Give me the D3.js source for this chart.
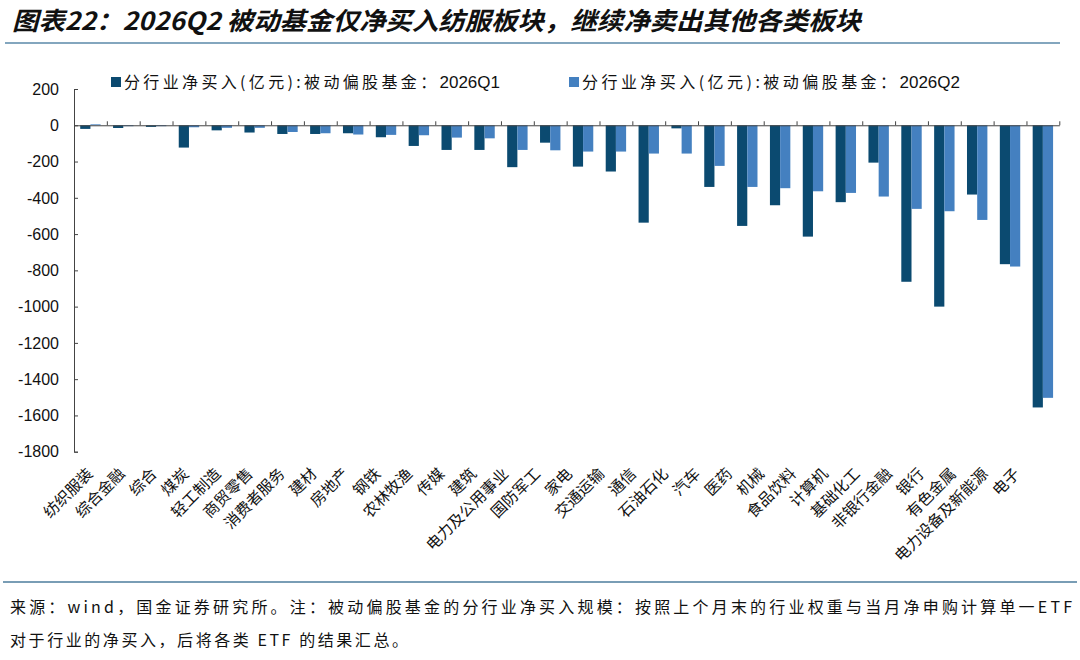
<!DOCTYPE html>
<html><head><meta charset="utf-8">
<script src="https://cdn.jsdelivr.net/npm/d3@7"></script>
<style>
html,body{margin:0;padding:0;background:#fff;}
svg{display:block;}
</style></head>
<body>
<svg id="chart" width="1080" height="660"></svg>
<script>
const categories = ["纺织服装","综合金融","综合","煤炭","轻工制造","商贸零售","消费者服务","建材","房地产","钢铁","农林牧渔","传媒","建筑","电力及公用事业","国防军工","家电","交通运输","通信","石油石化","汽车","医药","机械","食品饮料","计算机","基础化工","非银行金融","银行","有色金属","电力设备及新能源","电子"];
const q1Values = [-20,-15,-9,-123,-28,-40,-48,-48,-44,-66,-114,-136,-136,-231,-96,-228,-255,-537,-17,-340,-555,-441,-614,-424,-206,-863,-1000,-382,-766,-1556];
const q2Values = [5,-5,-5,-11,-14,-14,-37,-44,-51,-53,-55,-68,-72,-136,-138,-145,-145,-156,-156,-224,-340,-347,-364,-373,-393,-461,-474,-522,-779,-1503];
const seriesPrefix = "分行业净买入(亿元):被动偏股基金：";
const seriesQuarters = ["2026Q1","2026Q2"];
const yTicks = [200,0,-200,-400,-600,-800,-1000,-1200,-1400,-1600,-1800];
const titleText = "图表22：2026Q2 被动基金仅净买入纺服板块，继续净卖出其他各类板块";
const footLines = ["来源：wind，国金证券研究所。注：被动偏股基金的分行业净买入规模：按照上个月末的行业权重与当月净申购计算单一ETF","对于行业的净买入，后将各类 ETF 的结果汇总。"];

const colors = ["#0b4a70","#4480c0"];
const svg = d3.select("#chart");
const cjk = "'Noto Sans CJK SC','Noto Sans',sans-serif";
const latin = "'Liberation Sans',Arial,sans-serif";

// Title
svg.append("text").attr("x",12).attr("y",30)
  .attr("font-family",cjk).attr("font-size",25).attr("font-weight","bold").attr("font-style","italic")
  .attr("textLength",849).attr("lengthAdjust","spacingAndGlyphs")
  .attr("fill","#111").text(titleText);
svg.append("line").attr("x1",5).attr("x2",1060).attr("y1",43).attr("y2",43)
  .attr("stroke","#5a88a8").attr("stroke-width",1.5);

// Scales
const x = d3.scaleBand().domain(categories).range([74,1059.3]).padding(0);
const xs = d3.scaleBand().domain([0,1]).range([0,x.bandwidth()]).paddingInner(0).paddingOuter(0.61);
const y = d3.scaleLinear().domain([-1800,200]).range([451.7,89]);

// Bars
const series = [q1Values,q2Values];
series.forEach((vals,si)=>{
  svg.append("g").selectAll("rect").data(vals).join("rect")
    .attr("x",(d,i)=>x(categories[i])+xs(si))
    .attr("width",xs.bandwidth())
    .attr("y",d=>y(Math.max(0,d)))
    .attr("height",d=>Math.abs(y(d)-y(0)))
    .attr("fill",colors[si]);
});

// Y axis
const yAxis = d3.axisRight(y).tickValues(yTicks).tickSize(4).tickFormat("");
const gy = svg.append("g").attr("transform","translate(74,0)").call(yAxis);
gy.select(".domain").attr("stroke","#444");
gy.selectAll(".tick line").attr("stroke","#444");
svg.append("g").selectAll("text").data(yTicks).join("text")
  .attr("x",59).attr("y",d=>y(d)).attr("dy","0.36em")
  .attr("text-anchor","end").attr("font-family",latin).attr("font-size",16).attr("fill","#111")
  .text(d=>d);

// X axis at zero: ticks at category boundaries pointing up
const xb = d3.scaleLinear().domain([0,categories.length]).range([74,1059.3]);
const xAxis = d3.axisTop(xb).tickValues(d3.range(1,categories.length+1)).tickSize(4).tickSizeOuter(0).tickFormat("");
const gx = svg.append("g").attr("transform",`translate(0,${y(0)})`).call(xAxis);
gx.select(".domain").attr("stroke","#444");
gx.selectAll(".tick line").attr("stroke","#444");

// Category labels
const lx = d3.scalePoint().domain(categories).range([90,1017]);
svg.append("g").selectAll("text").data(categories).join("text")
  .attr("transform",d=>`translate(${lx(d)},471) rotate(-45)`)
  .attr("text-anchor","end").attr("dy","0.35em")
  .attr("font-family",cjk).attr("font-size",15.5).attr("fill","#111")
  .text(d=>d);

// Legend
const legendX = [111,569];
const legendW = [376,378];
seriesQuarters.forEach((q,i)=>{
  svg.append("rect").attr("x",legendX[i]).attr("y",77).attr("width",10).attr("height",10).attr("fill",colors[i]);
  const t = svg.append("text").attr("x",legendX[i]+13).attr("y",88).attr("fill","#111");
  const a = t.append("tspan").attr("font-family",cjk).attr("font-size",16).text(seriesPrefix);
  const b = t.append("tspan").attr("font-family",latin).attr("font-size",17).text(q);
  const total = t.node().getComputedTextLength();
  const ls = (legendW[i]-total)/seriesPrefix.length;
  a.attr("letter-spacing",ls);
});

// Footer
svg.append("line").attr("x1",3).attr("x2",1077).attr("y1",582).attr("y2",582)
  .attr("stroke","#4d7d9d").attr("stroke-width",1.5);
const footW = [1062,398];
footLines.forEach((t,i)=>{
  svg.append("text").attr("x",10).attr("y",613+i*33)
    .attr("font-family",cjk).attr("font-size",16).attr("fill","#111")
    .attr("textLength",footW[i]).attr("lengthAdjust","spacing").text(t);
});
</script>
</body></html>
